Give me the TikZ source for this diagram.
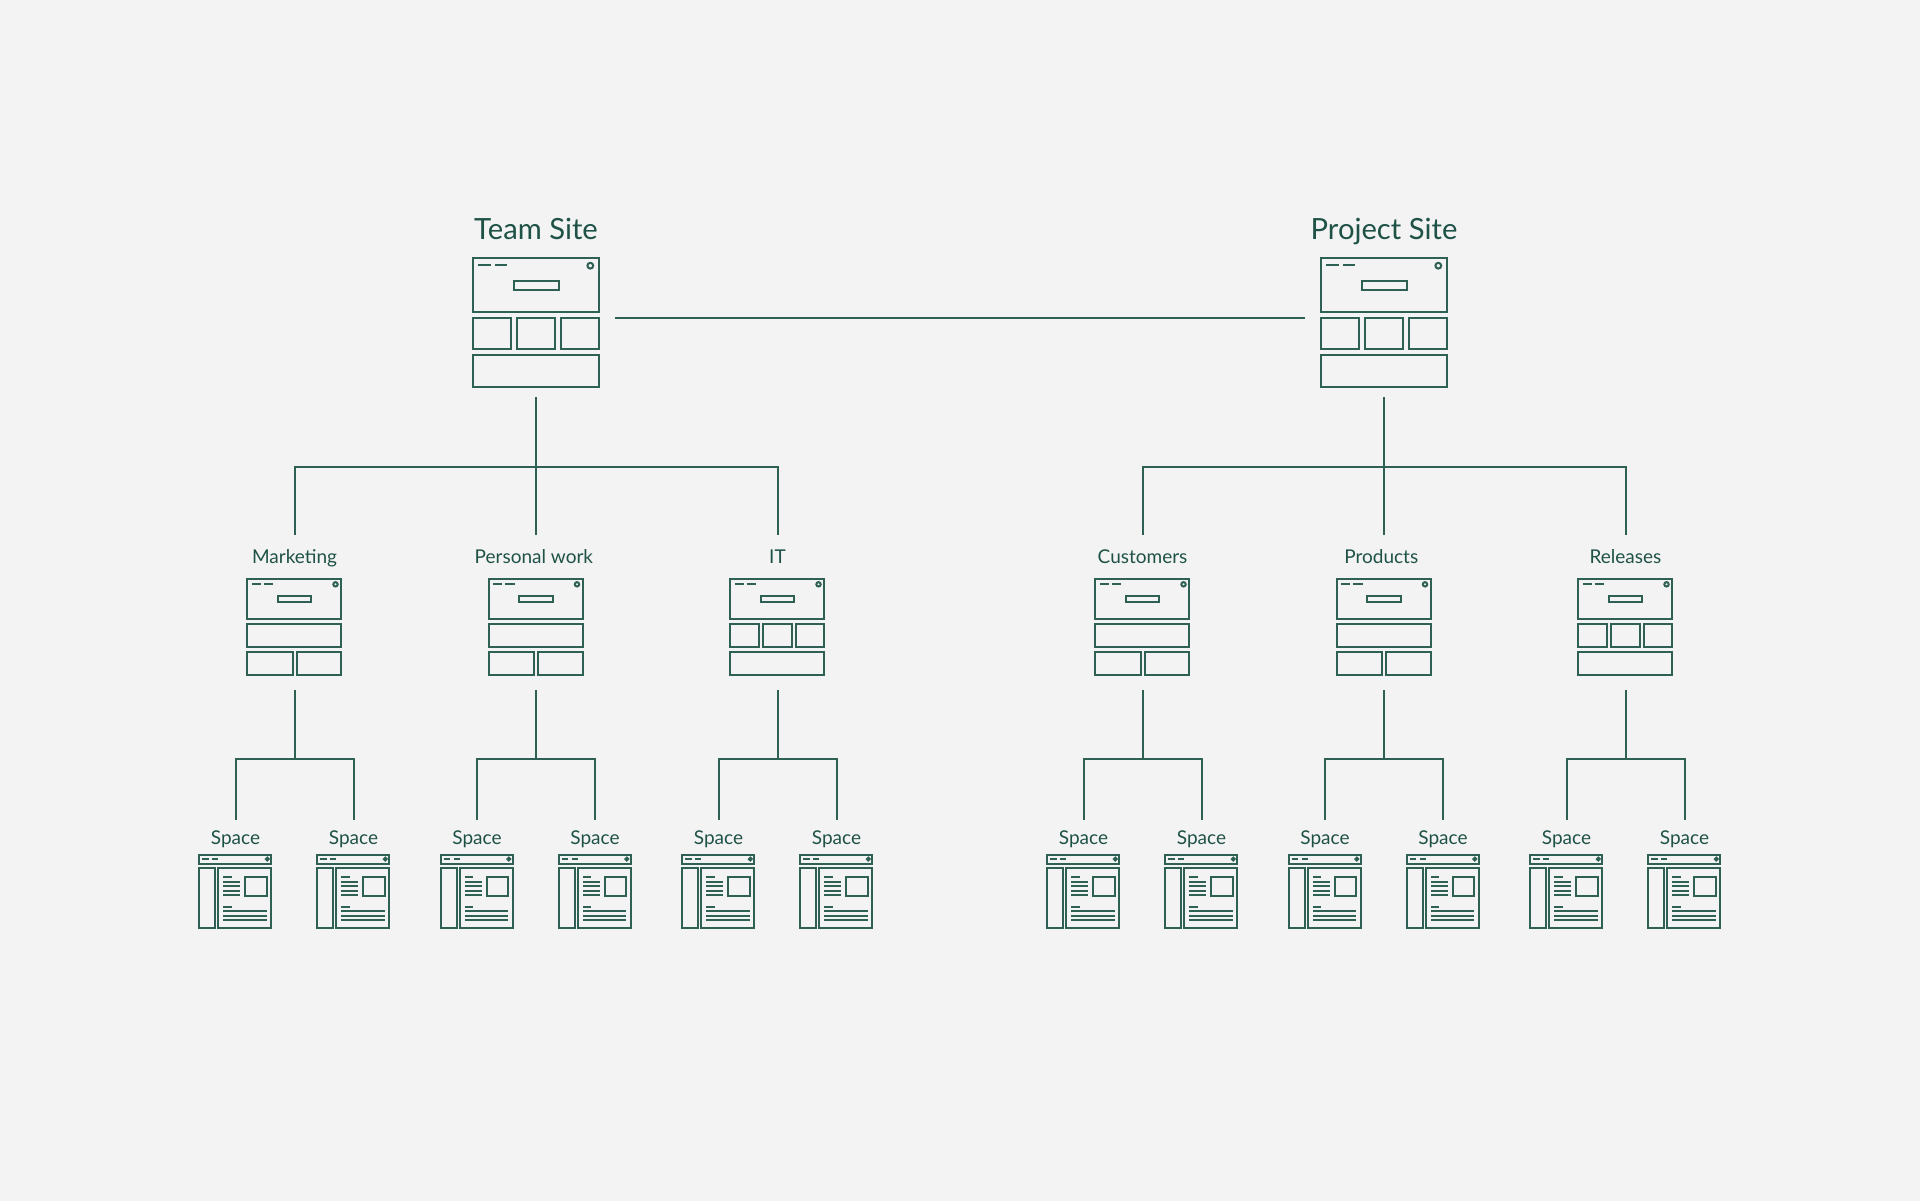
\documentclass[tikz,border=0pt]{standalone}
\usepackage{fontspec}
\setmainfont{Lato}
\definecolor{ink}{HTML}{1F5247}
\definecolor{stroke}{HTML}{2E6054}
\definecolor{paper}{HTML}{F3F3F3}
\tikzset{
  ic/.style={draw=stroke,line width=1pt,fill=none},
  conn/.style={draw=stroke,line width=1pt},
  anch/.style={inner sep=0pt,draw=none,fill=none},
  topanch/.style={anch,minimum width=63pt,minimum height=69.6pt,outer xsep=8pt,outer ysep=5pt},
  midanch/.style={anch,minimum width=47.2pt,minimum height=48.35pt,outer ysep=7pt},
  toplab/.style={anch,text=ink,font=\fontsize{14.6}{16}\selectfont,anchor=base},
  midlab/.style={anch,text=ink,font=\fontsize{9.5}{12}\selectfont,text height=10pt,text depth=3pt,minimum height=21pt},
  leaflab/.style={anch,text=ink,font=\fontsize{9.5}{12}\selectfont,text height=8pt,text depth=2.5pt,minimum height=18pt},
}
% big site icon, centred on x = #1
\newcommand{\siteicon}[1]{%
  \begin{scope}[shift={(#1,0)}]
    \draw[ic] (-63,258.3) rectangle (62.5,311.5);
    \draw[ic] (-22.5,280.7) rectangle (22.5,289.7);
    \draw[ic] (-57.7,264.7) -- (-45.3,264.7) (-41,264.7) -- (-28.7,264.7);
    \draw[ic] (54.3,265.7) circle (1.45pt);
    \draw[ic] (-63,317.7) rectangle (-25,348.5);
    \draw[ic] (-19,317.7) rectangle (19,348.5);
    \draw[ic] (25,317.7) rectangle (62.5,348.5);
    \draw[ic] (-63,355.3) rectangle (62.5,387);
  \end{scope}}
% head of a middle icon
\newcommand{\midhead}{%
    \draw[ic] (-47.2,579) rectangle (46.8,619);
    \draw[ic] (-16.7,595.7) rectangle (16.7,602);
    \draw[ic] (-43,583.7) -- (-34,583.7) (-31,583.7) -- (-21.5,583.7);
    \draw[ic] (41,584.3) circle (1.1pt);}
% middle icon with wide row above two cells
\newcommand{\midicontwo}[1]{%
  \begin{scope}[shift={(#1,0)}]
    \midhead
    \draw[ic] (-47.2,623.7) rectangle (46.8,647.3);
    \draw[ic] (-47.2,651.7) rectangle (-2,675.4);
    \draw[ic] (2.2,651.7) rectangle (46.8,675.4);
  \end{scope}}
% middle icon with three cells above wide row
\newcommand{\midiconthree}[1]{%
  \begin{scope}[shift={(#1,0)}]
    \midhead
    \draw[ic] (-47.2,623.7) rectangle (-18.8,647.3);
    \draw[ic] (-14.2,623.7) rectangle (14.2,647.3);
    \draw[ic] (18.8,623.7) rectangle (46.8,647.3);
    \draw[ic] (-47.2,651.7) rectangle (46.8,675.4);
  \end{scope}}
% space icon
\newcommand{\spaceicon}[1]{%
  \begin{scope}[shift={(#1,0)}]
    \draw[ic] (-36.2,854.7) rectangle (35.7,864.3);
    \draw[ic] (-33.2,858.5) -- (-26.8,858.5) (-23.5,858.5) -- (-17.2,858.5);
    \draw[ic] (31.8,859) circle (0.7pt);
    \draw[ic] (-36.2,868.3) rectangle (-20.5,928);
    \draw[ic] (-17.2,868.3) rectangle (35.7,928);
    \draw[ic] (-12.2,877.3) -- (-3.8,877.3);
    \draw[ic] (-12.2,881.7) -- (4.5,881.7) (-12.2,886.2) -- (4.5,886.2)
              (-12.2,890.7) -- (4.5,890.7) (-12.2,895.3) -- (4.5,895.3);
    \draw[ic] (9.8,877) rectangle (31.2,895.7);
    \draw[ic] (-12.2,906.7) -- (-3.8,906.7);
    \draw[ic] (-12.2,911.3) -- (31.2,911.3) (-12.2,915.7) -- (31.2,915.7)
              (-12.2,920) -- (31.2,920);
  \end{scope}}
\begin{document}
\begin{tikzpicture}[x=0.5pt,y=-0.5pt]
\useasboundingbox (0,0) rectangle (1920,1200);
\fill[paper] (-6,-6) rectangle (1926,1206);

% site level
\siteicon{536}
\siteicon{1384}
\node[toplab] (teamlabel) at (536,239.3) {Team Site};
\node[toplab] (projectlabel) at (1384,239.3) {Project Site};
\node[topanch] (team) at (536,317.7) {};
\node[topanch] (project) at (1384,317.7) {};
\draw[conn] (team.east) -- (project.west);

\coordinate (teambus) at (536,466.5);
\coordinate (projectbus) at (1384,466.5);

% second level
\foreach \n/\cx/\txt/\ty in {
  a/294.5/Marketing/two,
  b/536/{Personal work\hspace{2.1pt}\null}/two,
  c/777.5/IT/three,
  d/1142.5/Customers/two,
  e/1384/{Products\hspace{2.75pt}\null}/two,
  f/1625.5/Releases/three}{
  \csname midicon\ty\endcsname{\cx}
  \node[midlab] (lab\n) at (\cx,556) {\txt};
  \node[midanch] (mid\n) at (\cx,627.35) {};
  \coordinate (bus\n) at (\cx,759);
  \node[leaflab] (sp\n1) at (\cx-59,838.5) {Space};
  \node[leaflab] (sp\n2) at (\cx+59,838.5) {Space};
  \spaceicon{\cx-59}
  \spaceicon{\cx+59}
  \draw[conn] (mid\n.south) -- (bus\n);
  \draw[conn] (sp\n1.north) |- (bus\n) -| (sp\n2.north);
}

\draw[conn] (team.south) -- (labb.north);
\draw[conn] (laba.north) |- (teambus) -| (labc.north);
\draw[conn] (project.south) -- (labe.north);
\draw[conn] (labd.north) |- (projectbus) -| (labf.north);
\end{tikzpicture}
\end{document}
